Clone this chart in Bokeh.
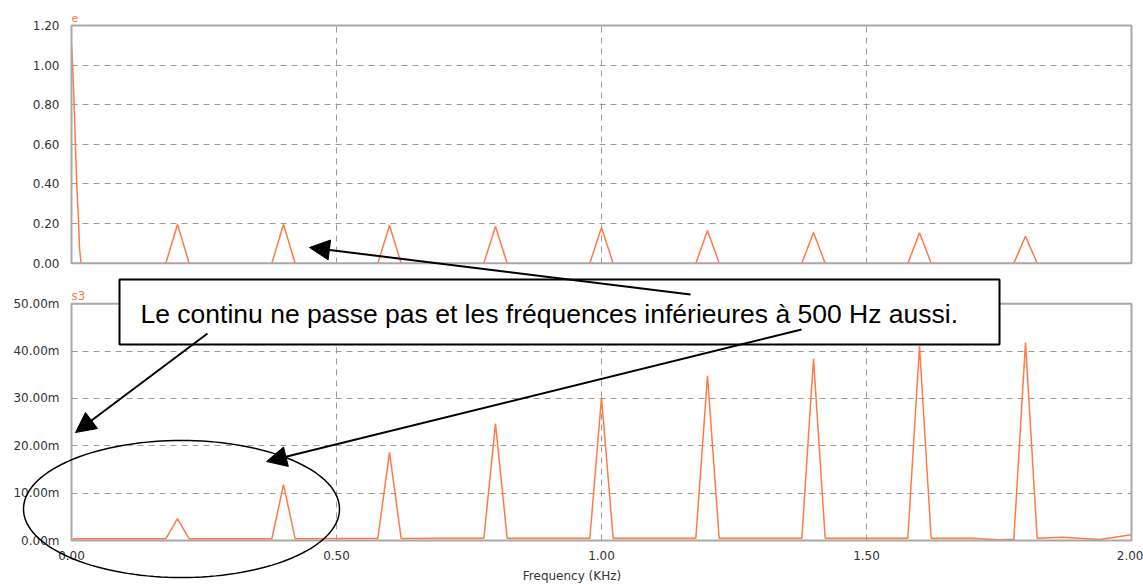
import numpy as np
from bokeh.plotting import figure
from bokeh.models import (Range1d, FixedTicker, PrintfTickFormatter, BoxAnnotation,
                          Label, Arrow, NormalHead, PolyAnnotation, LinearAxis, Grid)
from bokeh.embed import file_html
from bokeh.resources import INLINE

# ---------------- data ----------------
harmonic_khz = [0.2, 0.4, 0.6, 0.8, 1.0, 1.2, 1.4, 1.6, 1.8]
e_peaks = [0.195, 0.195, 0.190, 0.185, 0.180, 0.165, 0.155, 0.153, 0.136]
s3_peaks_m = [4.6, 11.8, 18.6, 24.7, 30.2, 34.8, 38.4, 41.1, 41.8]
peak_half_width_khz = 0.022

e_dc_khz = [0.000, 0.002, 0.004, 0.006, 0.008, 0.010, 0.013, 0.015, 0.018]
e_dc = [1.10, 1.01, 0.87, 0.71, 0.55, 0.39, 0.24, 0.08, 0.00]

s3_floor_khz = [0.000, 0.004, 0.100, 0.300, 0.500, 0.700, 0.900, 1.100,
                1.300, 1.500, 1.700, 1.750, 1.870, 1.940, 2.000]
s3_floor_m = [0.00, 0.35, 0.35, 0.35, 0.40, 0.45, 0.45, 0.50,
              0.50, 0.50, 0.45, 0.15, 0.70, 0.20, 1.20]

x_ticks = [0.0, 0.5, 1.0, 1.5, 2.0]
e_ticks = [0.0, 0.2, 0.4, 0.6, 0.8, 1.0, 1.2]
s3_ticks = [0, 10, 20, 30, 40, 50]
x_label = "Frequency (KHz)"
top_name = "e"
bottom_name = "s3"
note_text = "Le continu ne passe pas et les fréquences inférieures à 500 Hz aussi."

# ---------------- styles / layout (page pixels) ----------------
W, H = 1143, 584
PX_LEFT, PX_RIGHT = 71, 1131            # both panels share the frequency axis
TOP_Y0, TOP_Y1 = 262.7, 25.0            # pixel rows of e = 0 and e = 1.2
BOT_Y0, BOT_Y1 = 540.0, 303.3           # pixel rows of s3 = 0 and s3 = 50m

ORANGE = "#ff7a45"
GRID = "#9a9a9a"
FRAME = "#a8a8a8"
TXT = "#333333"
TICK_FONT = "DejaVu Sans"


def rng_x(lo, hi):
    k = (PX_RIGHT - PX_LEFT) / (hi - lo)
    start = lo - PX_LEFT / k
    return Range1d(start, start + W / k)


def rng_y(lo, hi, py_lo, py_hi):
    k = (py_lo - py_hi) / (hi - lo)
    start = lo - (H - py_lo) / k
    return Range1d(start, start + H / k)


# build series
e_xs = [e_dc_khz] + [[f - peak_half_width_khz, f, f + peak_half_width_khz] for f in harmonic_khz]
e_ys = [e_dc] + [[0.0, a, 0.0] for a in e_peaks]

pts = list(zip(s3_floor_khz, s3_floor_m))
for f, a in zip(harmonic_khz, s3_peaks_m):
    fl, fr = f - peak_half_width_khz, f + peak_half_width_khz
    pts.append((fl, float(np.interp(fl, s3_floor_khz, s3_floor_m))))
    pts.append((f, a))
    pts.append((fr, float(np.interp(fr, s3_floor_khz, s3_floor_m))))
pts.sort()
s3_x = [p[0] for p in pts]
s3_y = [p[1] for p in pts]

p = figure(width=W, height=H, output_backend="svg", toolbar_location=None,
           x_range=rng_x(0, 2), y_range=rng_y(0, 50, BOT_Y0, BOT_Y1),
           x_axis_location=None, y_axis_location=None,
           min_border=0, min_border_left=0, min_border_right=0,
           min_border_top=0, min_border_bottom=0)
p.extra_y_ranges = {"e": rng_y(0, 1.2, TOP_Y0, TOP_Y1)}
p.outline_line_color = None
p.background_fill_color = "white"
p.border_fill_color = "white"
p.grid.visible = False


def style_axis(ax):
    ax.axis_line_color = None
    ax.major_tick_line_color = None
    ax.minor_tick_line_color = None
    ax.major_tick_out = 0
    ax.major_tick_in = 0
    ax.minor_tick_out = 0
    ax.minor_tick_in = 0
    ax.major_label_text_font = TICK_FONT
    ax.major_label_text_font_size = "12px"
    ax.major_label_text_color = TXT
    ax.major_label_standoff = 12


def add_grid(dim, ticks, cross, range_name=None):
    kw = {} if range_name is None else {"y_range_name": range_name}
    g = Grid(dimension=dim, ticker=FixedTicker(ticks=ticks), cross_bounds=cross,
             grid_line_color=GRID, grid_line_dash="6 5", grid_line_width=1, **kw)
    p.add_layout(g)


# grids
add_grid(0, [0.5, 1.0, 1.5], (0, 1.2), "e")
add_grid(1, e_ticks[1:-1], (0, 2), "e")
add_grid(0, [0.5, 1.0, 1.5], (0, 50))
add_grid(1, s3_ticks[1:-1], (0, 2))

# panel frames
p.add_layout(BoxAnnotation(left=0, right=2, bottom=0, top=1.2, y_range_name="e",
                           fill_alpha=0, line_color=FRAME, line_width=2, line_alpha=1))
p.add_layout(BoxAnnotation(left=0, right=2, bottom=0, top=50,
                           fill_alpha=0, line_color=FRAME, line_width=2, line_alpha=1))

# axes
ay_e = LinearAxis(y_range_name="e", fixed_location=0, ticker=FixedTicker(ticks=e_ticks),
                  formatter=PrintfTickFormatter(format="%.2f"))
style_axis(ay_e)
p.add_layout(ay_e, "left")

ay_s = LinearAxis(fixed_location=0, ticker=FixedTicker(ticks=s3_ticks),
                  formatter=PrintfTickFormatter(format="%.2fm"))
style_axis(ay_s)
p.add_layout(ay_s, "left")

ax_f = LinearAxis(fixed_location=0, ticker=FixedTicker(ticks=x_ticks),
                  formatter=PrintfTickFormatter(format="%.2f"))
style_axis(ax_f)
ax_f.major_label_standoff = 10
ax_f.axis_label = x_label
ax_f.axis_label_text_font = TICK_FONT
ax_f.axis_label_text_font_size = "12px"
ax_f.axis_label_text_font_style = "normal"
ax_f.axis_label_text_color = TXT
ax_f.axis_label_standoff = 6
p.add_layout(ax_f, "below")

# series
p.multi_line(xs=e_xs, ys=e_ys, line_color=ORANGE, line_width=1.5, y_range_name="e")
p.line(s3_x, s3_y, line_color=ORANGE, line_width=1.5)

# series names
p.add_layout(Label(x=71, y=17, x_units="canvas", y_units="canvas", text=top_name,
                   text_font=TICK_FONT, text_font_size="11px", text_color=ORANGE,
                   text_baseline="alphabetic"))
p.add_layout(Label(x=71, y=295, x_units="canvas", y_units="canvas", text=bottom_name,
                   text_font=TICK_FONT, text_font_size="12px", text_color=ORANGE,
                   text_baseline="alphabetic"))

# ---------------- annotations (page pixel positions) ----------------
p.add_layout(BoxAnnotation(left=119, right=999, top=279, bottom=344,
                           left_units="canvas", right_units="canvas",
                           top_units="canvas", bottom_units="canvas",
                           fill_color="white", fill_alpha=1.0,
                           line_color="black", line_width=2, line_alpha=1.0))
p.add_layout(Label(x=140, y=313, x_units="canvas", y_units="canvas",
                   text=note_text, text_font="Liberation Sans",
                   text_font_size="26.5px", text_color="black", text_baseline="alphabetic"))


def arrow(start, tip):
    p.add_layout(Arrow(x_start=start[0], y_start=start[1], x_end=tip[0], y_end=tip[1],
                       start_units="canvas", end_units="canvas",
                       end=NormalHead(size=20, fill_color="black", line_color="black", line_width=1),
                       line_color="black", line_width=2))


arrow((690, 294), (309, 247))
arrow((207, 333), (75, 432))
arrow((801, 329), (266, 461))

t = np.linspace(0, 2 * np.pi, 145)
cx, cy, rx, ry = 181, 508.5, 158, 68.5
p.add_layout(PolyAnnotation(xs=list(cx + rx * np.cos(t)), ys=list(cy + ry * np.sin(t)),
                            xs_units="canvas", ys_units="canvas",
                            fill_alpha=0.0, line_color="black", line_width=1.5, line_alpha=1.0))

open("out.html", "w").write(file_html(p, INLINE))
